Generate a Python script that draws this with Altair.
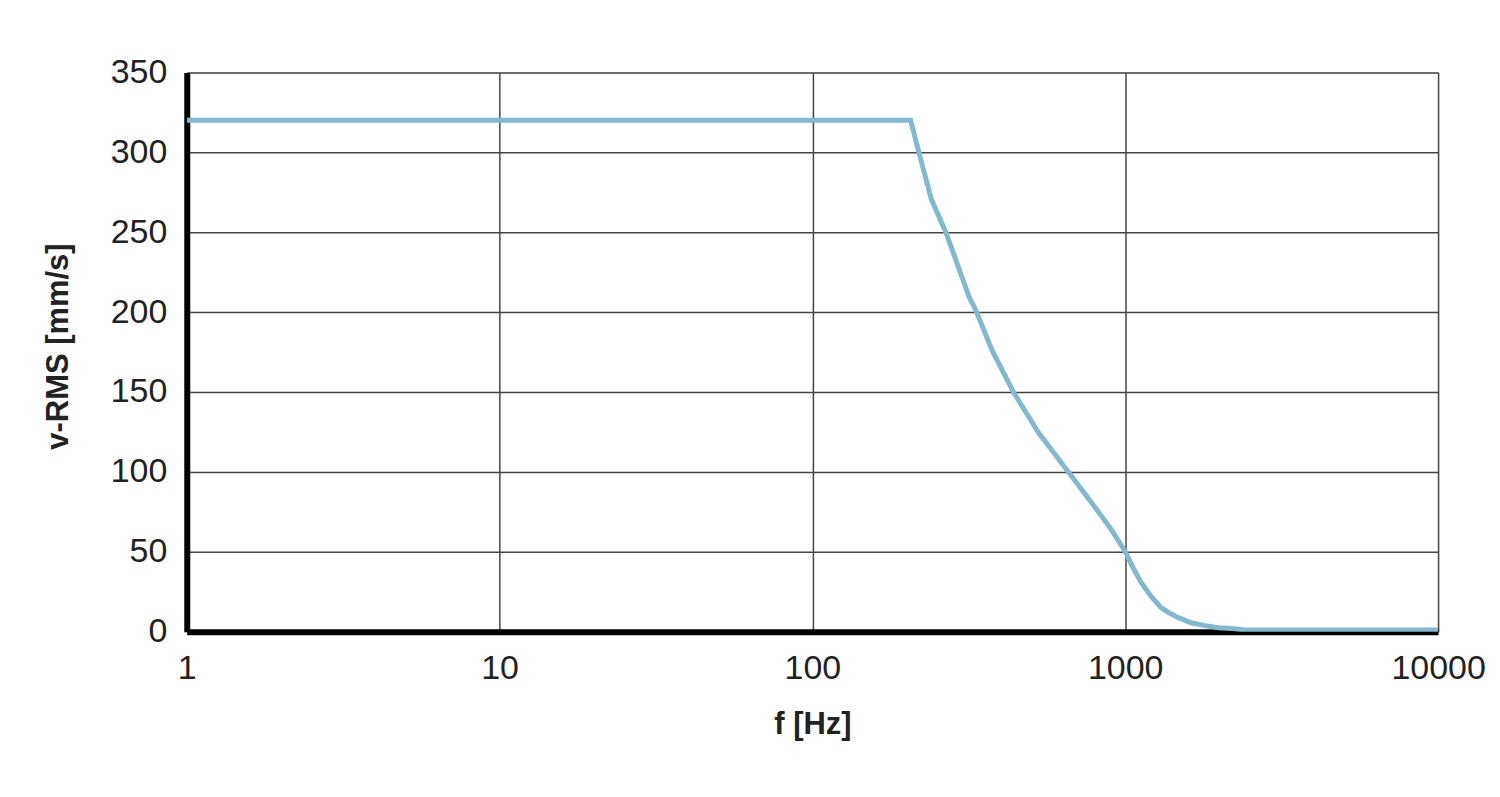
import altair as alt
import pandas as pd

freq = [1, 206, 219, 240, 267, 287, 316, 335, 374, 439, 528, 658, 780, 903, 1000, 1060, 1125, 1210, 1303, 1390, 1478, 1625, 1800, 1983, 2200, 2416, 10000]
vrms = [320, 320, 300, 270.6, 250, 233, 210, 200, 176.6, 150, 124.6, 100, 80.8, 63.9, 50, 40, 30.7, 22, 15, 11.5, 8.8, 5.6, 3.8, 2.5, 2, 1, 1]

x_ticks = [1, 10, 100, 1000, 10000]
y_ticks = [0, 50, 100, 150, 200, 250, 300, 350]

df = pd.DataFrame({"f": freq, "v": vrms})

font = "Liberation Sans"

chart = alt.Chart(df).mark_line(color="#84b8cf", strokeWidth=5, clip=True).encode(
    x=alt.X("f:Q",
            scale=alt.Scale(type="log", domain=[1, 10000], nice=False),
            axis=alt.Axis(values=x_ticks, format="d", title="f [Hz]",
                          labelFontSize=34, labelFont=font, labelColor="#222",
                          labelPadding=20, titleFontSize=31, titleFont=font,
                          titleFontWeight="bold", titleColor="#222", titlePadding=24,
                          domainColor="#000", domainWidth=6, ticks=False,
                          gridColor="#444", gridWidth=1.5, labelFlush=False)),
    y=alt.Y("v:Q",
            scale=alt.Scale(domain=[0, 350], nice=False),
            axis=alt.Axis(values=y_ticks, title="v-RMS [mm/s]",
                          labelFontSize=34, labelFont=font, labelColor="#222",
                          labelPadding=20, titleFontSize=31, titleFont=font,
                          titleFontWeight="bold", titleColor="#222", titlePadding=36,
                          titleY=274,
                          domainColor="#000", domainWidth=6, ticks=False,
                          gridColor="#444", gridWidth=1.5, labelFlush=False)),
).properties(
    width=1253, height=560,
    autosize=alt.AutoSizeParams(type="none"),
    padding={"left": 179, "top": 64, "right": 54, "bottom": 150},
).configure_view(stroke=None).configure(background="white")

chart.save("out.html", embed_options={"renderer": "svg", "actions": False})
